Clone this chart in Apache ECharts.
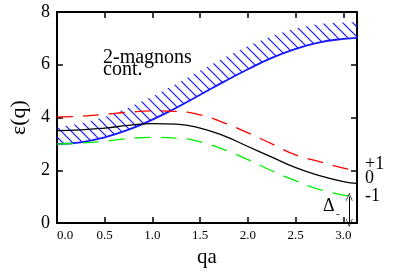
<!DOCTYPE html>
<html><head><meta charset="utf-8">
<script src="https://cdn.jsdelivr.net/npm/echarts@6/dist/echarts.min.js"></script>
<style>html,body{margin:0;padding:0;background:#fff}#c{width:395px;height:273px}</style>
</head><body><div id="c"></div>
<script>
const qValues = [0, 0.25, 0.5, 0.75, 1.0, 1.25, 1.5, 1.75, 2.0, 2.25, 2.5, 2.75, 3.0, 3.1416];
const contLower = [3.00, 3.06, 3.25, 3.54, 3.92, 4.37, 4.86, 5.36, 5.83, 6.26, 6.60, 6.85, 6.98, 7.02];
const contUpper = [3.63, 3.77, 4.02, 4.38, 4.80, 5.28, 5.78, 6.27, 6.71, 7.09, 7.38, 7.55, 7.60, 7.62];
const modeZero  = [3.50, 3.53, 3.60, 3.70, 3.77, 3.75, 3.60, 3.30, 2.90, 2.50, 2.10, 1.80, 1.57, 1.50];
const modePlus  = [4.02, 4.05, 4.12, 4.20, 4.25, 4.23, 4.10, 3.80, 3.42, 3.00, 2.58, 2.33, 2.08, 2.00];
const modeMinus = [2.99, 3.03, 3.10, 3.20, 3.25, 3.22, 3.08, 2.78, 2.40, 1.98, 1.60, 1.27, 1.06, 1.00];
const xTicks = [0, 0.5, 1.0, 1.5, 2.0, 2.5, 3.0];
const yTicks = [0, 2, 4, 6, 8];
const modeLabels = ['+1', '0', '-1'];
const gapQ = 3.06;           // position of the Δ arrow
const gapRange = [0, 1.0];   // Δ spans from 0 up to the -1 mode at the zone boundary
const contLabel = '2-magnons\ncont.';

const FONT = '"Liberation Serif"';
const pair = arr => qValues.map((q, i) => [q, arr[i]]);

// hatch pattern
const pc = document.createElement('canvas');
pc.width = 10; pc.height = 10;
const g = pc.getContext('2d');
g.strokeStyle = '#1515ff'; g.lineWidth = 1.2;
for (const k of [-10, 0, 10]) { g.beginPath(); g.moveTo(-2, -2 + k); g.lineTo(12, 12 + k); g.stroke(); }

const chart = echarts.init(document.getElementById('c'), null, {renderer: 'canvas'});
const axisLine = {show: true, onZero: false, lineStyle: {color: '#000', width: 2}};
const tick = {show: true, inside: true, length: 6, lineStyle: {color: '#000', width: 1.5}};
const xBase = {type: 'value', min: 0, max: qValues[qValues.length - 1], interval: 0.5, splitLine: {show: false}, axisLine, axisTick: tick};
const yBase = {type: 'value', min: yTicks[0], max: yTicks[yTicks.length - 1], interval: 2, splitLine: {show: false}, axisLine, axisTick: tick};

const endLab = (txt, dy) => ({show: true, formatter: txt, fontFamily: FONT, fontSize: 18, color: '#000', distance: 8, offset: [0, dy]});
const tText = (txt, x, y, size, lh) => ({text: txt, left: x, top: y, padding: 0, itemGap: 0,
  textStyle: {fontFamily: FONT, fontSize: size, fontWeight: 'normal', color: '#000', lineHeight: lh || size}});

chart.setOption({
  animation: false,
  title: [
    tText(contLabel, 103, 52, 20, 12),
    tText('Δ', 323, 197, 18),
    tText('-', 336, 209, 11)
  ],
  grid: {left: 53, right: 38, top: 12, bottom: 50},
  xAxis: [
    Object.assign({}, xBase, {position: 'bottom', name: 'qa', nameLocation: 'middle', nameGap: 18,
      nameTextStyle: {fontFamily: FONT, fontSize: 21, color: '#000'},
      axisLabel: {fontFamily: FONT, fontSize: 13, color: '#000', margin: 6, showMaxLabel: false, alignMinLabel: 'left',
        formatter: v => xTicks.some(t => Math.abs(t - v) < 1e-6) ? v.toFixed(1) : ''}}),
    Object.assign({}, xBase, {position: 'top', axisLabel: {show: false}})
  ],
  yAxis: [
    Object.assign({}, yBase, {position: 'left', name: 'ε(q)', nameLocation: 'middle', nameGap: 23,
      nameTextStyle: {fontFamily: FONT, fontSize: 22, color: '#000'},
      axisLabel: {fontFamily: FONT, fontSize: 18, color: '#000', margin: 7}}),
    Object.assign({}, yBase, {position: 'right', axisLabel: {show: false}})
  ],
  series: [
    {type: 'custom', name: 'contBand', clip: true, z: 2,
      data: qValues.map((q, i) => [q, contLower[i], contUpper[i]]),
      renderItem: (params, api) => {
        if (params.dataIndex !== 0) return null;
        const pts = [];
        for (let i = 0; i < qValues.length; i++) pts.push(api.coord([qValues[i], contLower[i]]));
        for (let i = qValues.length - 1; i >= 0; i--) pts.push(api.coord([qValues[i], contUpper[i]]));
        return {type: 'polygon', shape: {points: pts}, style: {fill: {image: pc, repeat: 'repeat'}, stroke: null}};
      }},
    {type: 'line', name: 'contLower', smooth: true, showSymbol: false, data: pair(contLower),
      lineStyle: {color: '#1515ff', width: 1.8}, z: 3},
    {type: 'line', name: 'plus', smooth: true, showSymbol: false, data: pair(modePlus),
      lineStyle: {color: '#ff0000', width: 1.3, type: [16, 10]}, endLabel: endLab(modeLabels[0], -6), z: 4},
    {type: 'line', name: 'zero', smooth: true, showSymbol: false, data: pair(modeZero),
      lineStyle: {color: '#000', width: 1.3}, endLabel: endLab(modeLabels[1], -5), z: 4},
    {type: 'line', name: 'minus', smooth: true, showSymbol: false, data: pair(modeMinus),
      lineStyle: {color: '#00ee00', width: 1.3, type: [16, 10]}, endLabel: endLab(modeLabels[2], 0), z: 4,
      markLine: {silent: true, symbol: ['path://M0,10 L5,0 L10,10 L9,10 L5,2 L1,10 Z', 'path://M0,10 L5,0 L10,10 L9,10 L5,2 L1,10 Z'],
        symbolSize: [7, 8], label: {show: false},
        lineStyle: {color: '#000', width: 1, type: 'solid'},
        data: [[{coord: [gapQ, gapRange[0]]}, {coord: [gapQ, gapRange[1]]}]]}}
  ]
});
</script></body></html>
